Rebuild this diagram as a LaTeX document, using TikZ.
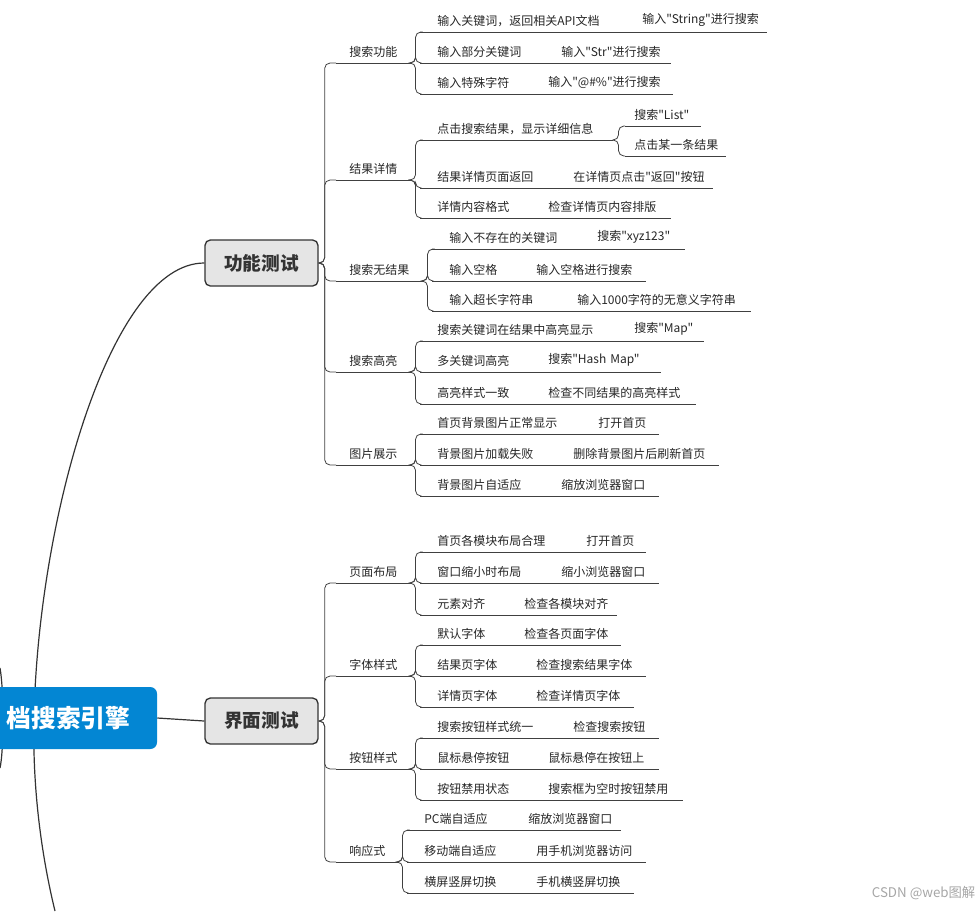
\documentclass[tikz,border=0pt]{standalone}
\usepackage{fontspec}
\newfontfamily\cjk{Noto Sans CJK SC}
\usetikzlibrary{backgrounds}
\tikzset{
 tp/.style={anchor=south west,inner xsep=0pt,inner ysep=4pt,align=left,font=\cjk\fontsize{9pt}{11pt}\selectfont,text=black!85},
 ul/.style={draw=black!75,line width=0.6pt},
 br/.style={draw=black!75,line width=0.6pt,rounded corners=4pt},
 l1/.style={draw=black!80,line width=1pt,fill=black!10,rounded corners=4pt,minimum width=84.75pt,minimum height=34.5pt,font=\cjk\bfseries\fontsize{14pt}{16pt}\selectfont,text=black!80},
}
% name, x0, x1, y, textx, text
\newcommand\tpc[6]{\node[tp,text width=\dimexpr 0.75pt*(#3-#2)\relax] (#1) at (#2,#4) {\hspace*{\dimexpr 0.75pt*(#5-#2)\relax}#6};
 \draw[ul] (#1.south west) -- (#1.south east);}
\begin{document}
\begin{tikzpicture}[x=0.75pt,y=-0.75pt]
\useasboundingbox (0,0) rectangle (980,911);
\node[l1] (A) at (261.5,263) {功能测试};
\node[l1] (B) at (261.5,721) {界面测试};
\node[fill={rgb,255:red,3;green,134;blue,211},rounded corners=5pt,minimum width=132.75pt,minimum height=46.5pt,text=white,font=\cjk\bfseries\fontsize{18.5pt}{20pt}\selectfont,inner sep=0pt] (R) at (68.5,718) {档搜索引擎};
\coordinate (bot) at (55,911);
\coordinate (rc) at (34,718);
\begin{scope}[on background layer]
\draw[black!80,line width=0.9pt] (A.west) .. controls (110,263) and (38,520) .. (rc) .. controls (32,800) and (45,870) .. (bot);
\draw[black!80,line width=0.9pt] (R.east) -- (B.west);
\coordinate (lt) at (0,668);
\coordinate (lb) at (0,768);
\draw[black!80,line width=0.9pt] (lt) .. controls (4,690) and (4,750) .. (lb);
\end{scope}
% level 2
\tpc{s1}{336}{410}{63}{349}{搜索功能}
\tpc{s2}{336}{410}{180}{349}{结果详情}
\tpc{s3}{336}{422}{281}{349}{搜索无结果}
\tpc{s4}{336}{410}{372}{349}{搜索高亮}
\tpc{s5}{336}{410}{465}{349}{图片展示}
\tpc{t1}{336}{410}{583}{349}{页面布局}
\tpc{t2}{336}{410}{676}{349}{字体样式}
\tpc{t3}{336}{410}{769}{349}{按钮样式}
\tpc{t4}{336}{397}{862}{349}{响应式}
\foreach \c in {s1,s2,s3,s4,s5} \draw[br] (A.east) -- ++(6,0) |- (\c.south west);
\foreach \c in {t1,t2,t3,t4} \draw[br] (B.east) -- ++(6,0) |- (\c.south west);
% 搜索功能
\tpc{a1}{420}{633}{32}{437}{输入关键词，返回相关API文档}
\tpc{a1x}{633}{766}{32}{642}{输入"String"进行搜索}
\tpc{a2}{420}{552}{63}{437}{输入部分关键词}
\tpc{a2x}{552}{670}{63}{561}{输入"Str"进行搜索}
\tpc{a3}{420}{539}{94}{437}{输入特殊字符}
\tpc{a3x}{539}{672}{94}{548}{输入"@\#\%"进行搜索}
\foreach \c in {a1,a2,a3} \draw[br] (s1.south east) -- ++(5,0) |- (\c.south west);
% 结果详情
\tpc{b1}{420}{612}{140}{437}{点击搜索结果，显示详细信息}
\tpc{b1x}{625}{700}{126}{634}{搜索"List"}
\tpc{b1y}{625}{725}{156}{634}{点击某一条结果}
\foreach \c in {b1x,b1y} \draw[br] (b1.south east) -- ++(6,0) |- (\c.south west);
\tpc{b2}{420}{564}{188}{437}{结果详情页面返回}
\tpc{b2x}{564}{712}{188}{573}{在详情页点击"返回"按钮}
\tpc{b3}{420}{539}{218}{437}{详情内容格式}
\tpc{b3x}{539}{670}{218}{548}{检查详情页内容排版}
\foreach \c in {b1,b2,b3} \draw[br] (s2.south east) -- ++(5,0) |- (\c.south west);
% 搜索无结果
\tpc{c1}{432}{588}{249}{449}{输入不存在的关键词}
\tpc{c1x}{588}{684}{249}{597}{搜索"xyz123"}
\tpc{c2}{432}{527}{281}{449}{输入空格}
\tpc{c2x}{527}{645}{281}{536}{输入空格进行搜索}
\tpc{c3}{432}{568}{311}{449}{输入超长字符串}
\tpc{c3x}{568}{750}{311}{577}{输入1000字符的无意义字符串}
\foreach \c in {c1,c2,c3} \draw[br] (s3.south east) -- ++(5,0) |- (\c.south west);
% 搜索高亮
\tpc{d1}{420}{625}{341}{437}{搜索关键词在结果中高亮显示}
\tpc{d1x}{625}{703}{341}{634}{搜索"Map"}
\tpc{d2}{420}{539}{372}{437}{多关键词高亮}
\tpc{d2x}{539}{660}{372}{548}{搜索"Hash Map"}
\tpc{d3}{420}{539}{404}{437}{高亮样式一致}
\tpc{d3x}{539}{695}{404}{548}{检查不同结果的高亮样式}
\foreach \c in {d1,d2,d3} \draw[br] (s4.south east) -- ++(5,0) |- (\c.south west);
% 图片展示
\tpc{e1}{420}{589}{434}{437}{首页背景图片正常显示}
\tpc{e1x}{589}{658}{434}{598}{打开首页}
\tpc{e2}{420}{564}{465}{437}{背景图片加载失败}
\tpc{e2x}{564}{718}{465}{573}{删除背景图片后刷新首页}
\tpc{e3}{420}{552}{496}{437}{背景图片自适应}
\tpc{e3x}{552}{658}{496}{561}{缩放浏览器窗口}
\foreach \c in {e1,e2,e3} \draw[br] (s5.south east) -- ++(5,0) |- (\c.south west);
% 页面布局
\tpc{f1}{420}{577}{552}{437}{首页各模块布局合理}
\tpc{f1x}{577}{645}{552}{586}{打开首页}
\tpc{f2}{420}{552}{583}{437}{窗口缩小时布局}
\tpc{f2x}{552}{658}{583}{561}{缩小浏览器窗口}
\tpc{f3}{420}{515}{615}{437}{元素对齐}
\tpc{f3x}{515}{616}{615}{524}{检查各模块对齐}
\foreach \c in {f1,f2,f3} \draw[br] (t1.south east) -- ++(5,0) |- (\c.south west);
% 字体样式
\tpc{g1}{420}{515}{645}{437}{默认字体}
\tpc{g1x}{515}{620}{645}{524}{检查各页面字体}
\tpc{g2}{420}{527}{676}{437}{结果页字体}
\tpc{g2x}{527}{645}{676}{536}{检查搜索结果字体}
\tpc{g3}{420}{527}{707}{437}{详情页字体}
\tpc{g3x}{527}{633}{707}{536}{检查详情页字体}
\foreach \c in {g1,g2,g3} \draw[br] (t2.south east) -- ++(5,0) |- (\c.south west);
% 按钮样式
\tpc{h1}{420}{564}{738}{437}{搜索按钮样式统一}
\tpc{h1x}{564}{658}{738}{573}{检查搜索按钮}
\tpc{h2}{420}{539}{769}{437}{鼠标悬停按钮}
\tpc{h2x}{539}{658}{769}{548}{鼠标悬停在按钮上}
\tpc{h3}{420}{539}{800}{437}{按钮禁用状态}
\tpc{h3x}{539}{682}{800}{548}{搜索框为空时按钮禁用}
\foreach \c in {h1,h2,h3} \draw[br] (t3.south east) -- ++(5,0) |- (\c.south west);
% 响应式
\tpc{k1}{407}{519}{830}{424}{PC端自适应}
\tpc{k1x}{519}{620}{830}{528}{缩放浏览器窗口}
\tpc{k2}{407}{527}{862}{424}{移动端自适应}
\tpc{k2x}{527}{645}{862}{536}{用手机浏览器访问}
\tpc{k3}{407}{527}{893}{424}{横屏竖屏切换}
\tpc{k3x}{527}{633}{893}{536}{手机横竖屏切换}
\foreach \c in {k1,k2,k3} \draw[br] (t4.south east) -- ++(5,0) |- (\c.south west);
\node[font=\cjk\fontsize{10pt}{12pt}\selectfont,text=black!35,anchor=east] (wm) at (980,893) {CSDN @web图解};
\end{tikzpicture}
\end{document}
